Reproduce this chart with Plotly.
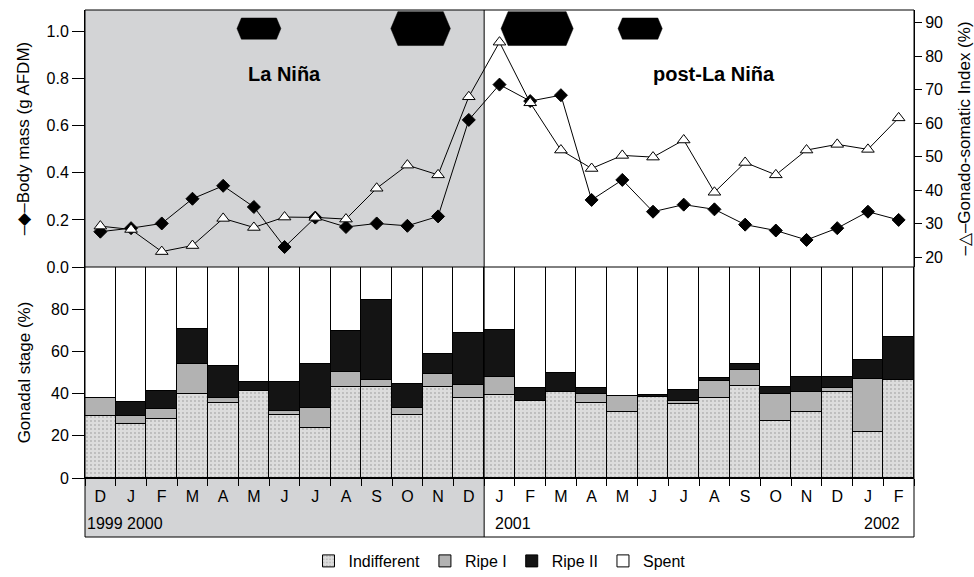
import plotly.graph_objects as go

# ---------------- data ----------------
months = ['D', 'J', 'F', 'M', 'A', 'M', 'J', 'J', 'A', 'S', 'O', 'N', 'D',
          'J', 'F', 'M', 'A', 'M', 'J', 'J', 'A', 'S', 'O', 'N', 'D', 'J', 'F']
n_lanina = 13  # Dec 1999 - Dec 2000

body_mass = [0.15, 0.165, 0.185, 0.29, 0.345, 0.255, 0.085, 0.21, 0.17, 0.185, 0.175, 0.215, 0.625,
             0.775, 0.705, 0.73, 0.285, 0.37, 0.235, 0.265, 0.245, 0.18, 0.155, 0.115, 0.165, 0.235, 0.2]
gsi = [29.3, 28.3, 21.7, 23.5, 31.6, 28.9, 32.0, 31.9, 31.4, 40.6, 47.5, 44.6, 67.9,
       84.2, 66.1, 52.0, 46.5, 50.4, 49.9, 55.0, 39.4, 48.3, 44.6, 52.0, 53.7, 52.2, 61.6]

indifferent = [29.2, 25.8, 27.8, 40.0, 35.7, 41.1, 29.7, 23.9, 43.0, 43.0, 30.0, 43.0, 38.1,
               39.2, 36.4, 40.6, 35.7, 31.3, 38.4, 35.1, 38.1, 43.6, 26.9, 31.3, 40.9, 21.8, 46.6]
ripe1 = [8.9, 3.6, 4.9, 13.8, 2.1, 0.0, 1.9, 9.3, 7.1, 3.3, 3.2, 6.2, 6.0,
         8.7, 0.0, 0.0, 4.1, 7.4, 0.0, 1.6, 7.7, 7.5, 12.9, 9.5, 1.8, 25.3, 0.0]
ripe2 = [0.0, 6.6, 8.4, 16.7, 15.2, 4.4, 13.9, 20.6, 19.8, 38.1, 11.5, 9.6, 24.4,
         22.1, 6.4, 9.4, 2.7, 0.4, 1.0, 5.2, 1.8, 2.7, 3.5, 6.9, 5.0, 8.9, 20.3]
spent = [round(100 - a - b - c, 1) for a, b, c in zip(indifferent, ripe1, ripe2)]

# black event bars at the top of the upper panel (month-index span, half height)
event_start = [4.45, 9.46, 13.05, 16.86]
event_end = [5.88, 11.40, 15.40, 18.30]
event_half = [0.045, 0.072, 0.072, 0.045]
event_center = 1.013

year_labels = ['1999', '2000', '2001', '2002']
year_month_idx = [0, 1, 13, 25]

period_labels = ['La Niña', 'post-La Niña']
period_month_idx = [6, 20]
period_y = 0.82

x = list(range(len(months)))
n = len(months)

# ---------------- geometry ----------------
FONT = 'Liberation Sans, Arial, Helvetica, sans-serif'
split = 211 / 468          # boundary between lower and upper panels (paper)
row_bottom = -59 / 468     # bottom of the month/year label row (paper)
div_x = n_lanina / n       # La Niña / post-La Niña divider (paper)

fig = go.Figure()

# ---------------- stacked bars ----------------
line_blk = dict(color='black', width=1)
fig.add_trace(go.Bar(x=x, y=indifferent, name='Indifferent', xaxis='x', yaxis='y',
                     marker=dict(color='#dcdcdc', line=line_blk,
                                 pattern=dict(shape='.', fgcolor='#8a8a8a', size=4,
                                              solidity=0.18, fillmode='overlay'))))
fig.add_trace(go.Bar(x=x, y=ripe1, name='Ripe I', xaxis='x', yaxis='y',
                     marker=dict(color='#b2b2b2', line=line_blk)))
fig.add_trace(go.Bar(x=x, y=ripe2, name='Ripe II', xaxis='x', yaxis='y',
                     marker=dict(color='#141414', line=line_blk)))
fig.add_trace(go.Bar(x=x, y=spent, name='Spent', xaxis='x', yaxis='y',
                     marker=dict(color='white', line=line_blk)))

# ---------------- event hexagons ----------------
hx, hy = [], []
for s, e, h in zip(event_start, event_end, event_half):
    t = 3.2 * h
    hx += [s, s + t, e - t, e, e - t, s + t, s, None]
    hy += [event_center, event_center + h, event_center + h, event_center,
           event_center - h, event_center - h, event_center, None]
fig.add_trace(go.Scatter(x=hx, y=hy, xaxis='x2', yaxis='y2', mode='lines', fill='toself',
                         fillcolor='black', line=dict(color='black', width=0.5),
                         showlegend=False, hoverinfo='skip'))

# ---------------- lines ----------------
fig.add_trace(go.Scatter(x=x, y=gsi, xaxis='x2', yaxis='y3', mode='lines+markers',
                         line=dict(color='black', width=1),
                         marker=dict(symbol='triangle-up', size=11, color='white',
                                     line=dict(color='black', width=1)),
                         showlegend=False, name='Gonado-somatic Index'))
fig.add_trace(go.Scatter(x=x, y=body_mass, xaxis='x2', yaxis='y2', mode='lines+markers',
                         line=dict(color='black', width=1),
                         marker=dict(symbol='diamond', size=10, color='black',
                                     line=dict(color='black', width=1)),
                         showlegend=False, name='Body mass'))

# ---------------- shapes ----------------
shapes = [
    dict(type='rect', xref='paper', yref='paper', x0=0, x1=div_x, y0=split, y1=1,
         fillcolor='#d3d4d6', line=dict(width=0), layer='below'),
    dict(type='rect', xref='paper', yref='paper', x0=0, x1=div_x, y0=row_bottom, y1=0,
         fillcolor='#d3d4d6', line=dict(width=0), layer='below'),
    dict(type='rect', xref='paper', yref='paper', x0=0, x1=1, y0=row_bottom, y1=1,
         line=dict(color='black', width=1), layer='above'),
    dict(type='line', xref='paper', yref='paper', x0=div_x, x1=div_x, y0=row_bottom, y1=1,
         line=dict(color='black', width=1), layer='above'),
    dict(type='line', xref='paper', yref='paper', x0=0, x1=1, y0=split, y1=split,
         line=dict(color='black', width=1), layer='above'),
]

# ---------------- annotations ----------------
annotations = []
for lab, xi in zip(period_labels, period_month_idx):
    annotations.append(dict(text='<b>' + lab + '</b>', x=xi, y=period_y, xref='x2', yref='y2',
                            showarrow=False, font=dict(family=FONT, size=20, color='black'),
                            xanchor='center', yanchor='middle'))
for i, (lab, xi) in enumerate(zip(year_labels, year_month_idx)):
    adjacent_next = i + 1 < len(year_month_idx) and year_month_idx[i + 1] - xi == 1
    annotations.append(dict(text=lab, x=xi + 0.5 if adjacent_next else xi - 0.5,
                            y=-45 / 468, xref='x', yref='paper', showarrow=False,
                            xanchor='right' if adjacent_next else 'left', yanchor='middle',
                            xshift=9,
                            font=dict(family=FONT, size=16, color='black')))

tick_common = dict(ticks='outside', tickcolor='black', showgrid=False, zeroline=False,
                   tickfont=dict(family=FONT, size=16, color='black'), showline=True,
                   linecolor='black', linewidth=1)

fig.update_layout(
    width=974, height=577,
    margin=dict(l=85, r=60, t=10, b=99, autoexpand=False),
    paper_bgcolor='white', plot_bgcolor='white',
    barmode='stack', bargap=0,
    font=dict(family=FONT, size=16, color='black'),
    showlegend=True,
    legend=dict(orientation='h', x=0.5, xanchor='center', y=-83 / 468, yanchor='middle',
                font=dict(family=FONT, size=16, color='black'), traceorder='normal',
                itemwidth=30),
    xaxis=dict(domain=[0, 1], anchor='y', range=[-0.5, n - 0.5],
               tickvals=x, ticktext=months, ticks='outside', ticklen=4,
               tickcolor='rgba(0,0,0,0)', showgrid=False, zeroline=False,
               showline=True, linecolor='black', linewidth=1,
               tickfont=dict(family=FONT, size=16, color='black'),
               minor=dict(tickvals=[i - 0.5 for i in range(n + 1)], ticks='outside',
                          ticklen=7, tickcolor='black', showgrid=False)),
    yaxis=dict(domain=[0, split], anchor='x', range=[0, 100], tickvals=[0, 20, 40, 60, 80],
               ticklen=12, title=dict(text='Gonadal stage (%)', standoff=16,
                                      font=dict(family=FONT, size=17, color='black')),
               **tick_common),
    xaxis2=dict(domain=[0, 1], anchor='y2', matches='x', visible=False),
    yaxis2=dict(domain=[split, 1], anchor='x2', range=[0, 1.092],
                tickvals=[0, 0.2, 0.4, 0.6, 0.8, 1.0], tickformat='.1f', ticklen=12,
                title=dict(text='–◆–Body mass (g AFDM)', standoff=12,
                           font=dict(family=FONT, size=17, color='black')),
                **tick_common),
    yaxis3=dict(overlaying='y2', anchor='x2', side='right', range=[17.1, 93.8],
                tickvals=[20, 30, 40, 50, 60, 70, 80, 90], ticklen=7,
                title=dict(text='–△–Gonado-somatic Index (%)', standoff=16,
                           font=dict(family=FONT, size=17, color='black')),
                **tick_common),
    shapes=shapes,
    annotations=annotations,
)

fig.write_html('out.html')
